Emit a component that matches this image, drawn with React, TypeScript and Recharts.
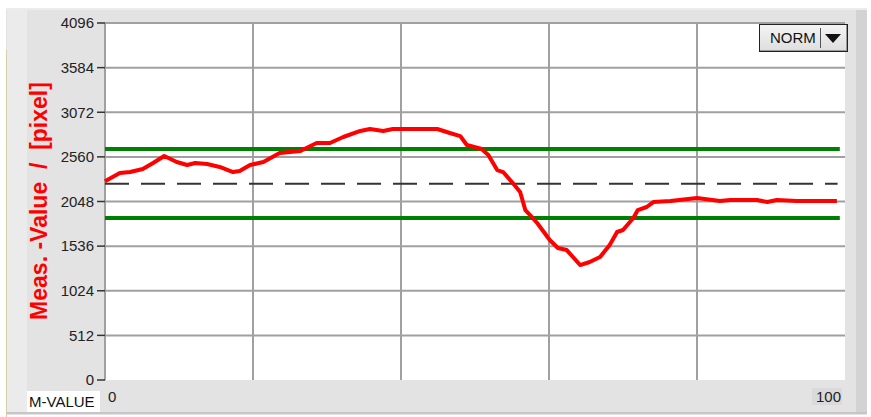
import React from "react"
import { LineChart, Line, XAxis, YAxis, CartesianGrid, ReferenceLine } from "recharts"

// measured value trace (x in % of range, y in pixel)
const mX = [0, 2, 3.4, 5.1, 6.5, 8, 9.7, 11.1, 12.2, 13.8, 15.5, 17.3, 18.2, 19.6, 21.4, 23.6, 26.4, 28.6, 30.4, 32.2, 34.5, 35.8, 37.6, 38.9, 44.9, 46.6, 48, 48.9, 50.9, 51.8, 53, 53.8, 55.1, 56.1, 56.8, 57.8, 58.4, 60.1, 61.2, 62.4, 64.2, 65.5, 66.9, 68.2, 69.2, 70, 71.4, 72, 73.2, 74.1, 76.4, 80, 83.1, 84.5, 88.1, 89.5, 90.8, 93.5, 98.9]
const mValue = [2280, 2375, 2386, 2421, 2490, 2570, 2501, 2467, 2490, 2478, 2444, 2386, 2398, 2467, 2501, 2604, 2627, 2719, 2719, 2788, 2857, 2880, 2857, 2880, 2880, 2834, 2799, 2696, 2650, 2581, 2409, 2386, 2260, 2157, 1950, 1859, 1801, 1606, 1514, 1491, 1319, 1354, 1411, 1549, 1698, 1721, 1859, 1950, 1985, 2042, 2054, 2088, 2054, 2065, 2065, 2042, 2065, 2054, 2054]

const yTicks = [0, 512, 1024, 1536, 2048, 2560, 3072, 3584, 4096]
const xTicks = [0, 20, 40, 60, 80, 100]

const upperLimit = 2650
const lowerLimit = 1860
const setPoint = 2252
const limitEnd = 99

const data = mX.map((x, i) => ({ x, v: mValue[i] }))

const gridColor = "#a0a0a0"
const font = "'Liberation Sans', Arial, sans-serif"

function XTick(props: any) {
  const { x, y, payload } = props
  if (payload.value === 0) {
    return (
      <text x={x + 3} y={y + 14} fontSize={15} fontFamily={font} fill="#222" textAnchor="start">0</text>
    )
  }
  if (payload.value === 100) {
    return (
      <g>
        <rect x={x - 33} y={y} width={30} height={17} fill="#dadada" />
        <text x={x - 4} y={y + 14} fontSize={15} fontFamily={font} fill="#222" textAnchor="end">100</text>
      </g>
    )
  }
  return null
}

export default function App() {
  return (
    <div style={{ position: "absolute", left: 0, top: 0, width: 871, height: 417, background: "#fff", overflow: "hidden", fontFamily: font }}>
      {/* panel */}
      <div style={{ position: "absolute", left: 6, top: 8, width: 861, height: 405, background: "#e3e3e3", borderTop: "2px solid #ececec" }} />
      <div style={{ position: "absolute", left: 6, top: 50, width: 1, height: 367, background: "#d8cda8" }} />
      <div style={{ position: "absolute", left: 7, top: 10, width: 20, height: 403, background: "#ebebeb" }} />
      <div style={{ position: "absolute", left: 856, top: 10, width: 11, height: 403, background: "#d3d3d3" }} />
      <div style={{ position: "absolute", left: 6, top: 412, width: 861, height: 2, background: "#c6c6c6" }} />

      <div style={{ position: "absolute", left: 0, top: 0 }}>
        <LineChart width={871} height={417} data={data} margin={{ top: 23, right: 26, left: 10, bottom: 7 }}>
          <CartesianGrid
            fill="#fff"
            stroke={gridColor}
            strokeWidth={2}
            horizontalValues={yTicks}
            verticalValues={xTicks}
            vertical={(p: any) => (p.x1 > 840 ? <g key={p.key} /> : <line key={p.key} x1={p.x1} y1={p.y1} x2={p.x2} y2={p.y2} stroke={gridColor} strokeWidth={2} />)}
            horizontal={(p: any) => (p.y1 > 378 ? <g key={p.key} /> : <line key={p.key} x1={p.x1} y1={p.y1} x2={p.x2} y2={p.y2} stroke={gridColor} strokeWidth={2} />)}
          />
          <XAxis
            dataKey="x"
            type="number"
            domain={[0, 100]}
            ticks={xTicks}
            axisLine={false}
            tickLine={false}
            height={30}
            tick={<XTick />}
            interval={0}
          />
          <YAxis
            type="number"
            domain={[0, 4096]}
            ticks={yTicks}
            width={95}
            axisLine={false}
            tickSize={8}
            tickMargin={3}
            tickLine={{ stroke: "#333", strokeWidth: 1.5 }}
            tick={{ fill: "#222", fontSize: 15, fontFamily: font }}
            interval={0}
            allowDataOverflow
          />
          <ReferenceLine segment={[{ x: 0, y: setPoint }, { x: limitEnd, y: setPoint }]} stroke="#333" strokeWidth={2} strokeDasharray="24 12" />
          <ReferenceLine segment={[{ x: 0, y: upperLimit }, { x: limitEnd + 0.3, y: upperLimit }]} stroke="#008000" strokeWidth={4} />
          <ReferenceLine segment={[{ x: 0, y: lowerLimit }, { x: limitEnd + 0.3, y: lowerLimit }]} stroke="#008000" strokeWidth={4} />
          <Line type="linear" dataKey="v" stroke="#ff0000" strokeWidth={4} dot={false} isAnimationActive={false} strokeLinejoin="round" />
        </LineChart>
      </div>

      {/* axis title */}
      <div style={{ position: "absolute", left: 39, top: 201, transform: "translate(-50%, -50%) rotate(-90deg)", whiteSpace: "pre", color: "#ff0000", fontWeight: "bold", fontSize: 23, lineHeight: "24px" }}>
        {"Meas. -Value  /  [pixel]"}
      </div>

      {/* M-VALUE label */}
      <div style={{ position: "absolute", left: 27, top: 391, width: 73, height: 21, background: "#fff", color: "#111", fontSize: 15, lineHeight: "21px", paddingLeft: 2, boxSizing: "border-box" }}>
        M-VALUE
      </div>

      {/* NORM selector */}
      <div style={{ position: "absolute", left: 759, top: 24, width: 89, height: 28, boxSizing: "border-box", border: "1px solid #222", background: "linear-gradient(#f4f4f4, #dedede)", boxShadow: "inset -1px -1px 0 #999" }}>
        <div style={{ position: "absolute", left: 10, top: 4, fontSize: 15, color: "#111" }}>NORM</div>
        <div style={{ position: "absolute", left: 60, top: 3, width: 1, height: 20, background: "#555" }} />
        <div style={{ position: "absolute", left: 65, top: 9, width: 0, height: 0, borderLeft: "8px solid transparent", borderRight: "8px solid transparent", borderTop: "9px solid #111" }} />
      </div>
    </div>
  )
}
